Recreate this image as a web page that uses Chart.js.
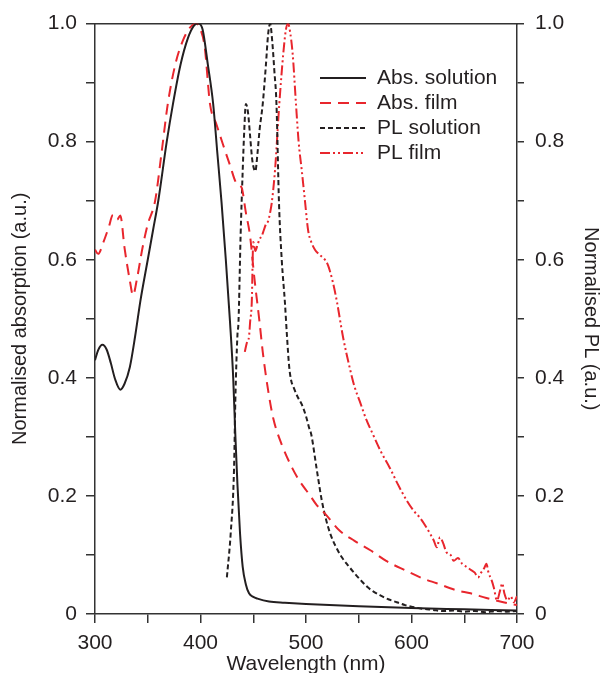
<!DOCTYPE html>
<html lang="en">
<head>
<meta charset="utf-8">
<title>Normalised absorption and PL</title>
<script src="https://cdn.jsdelivr.net/npm/chart.js@4.4.1/dist/chart.umd.min.js"></script>
<style>
  html, body { margin: 0; padding: 0; background: #fff; }
  #wrap { width: 602px; height: 673px; overflow: hidden; }
</style>
</head>
<body>
<div id="wrap"><canvas id="graph" width="602" height="677"></canvas></div>
<script>
// series: wavelength (nm) and normalised value
var absSolWl = [300,303,307,311,315,319,324,328,333,338,343,350,355,360,368,374,381,388,394,398,402,407,412,416,420,424,428,431,433,435,437.5,440,443,446,450,454,465,480,500,550,600,650,700];
var absSolVal = [0.43,0.447,0.456,0.448,0.425,0.398,0.38,0.39,0.418,0.47,0.53,0.6,0.65,0.70,0.80,0.865,0.93,0.975,0.997,1.0,0.99,0.93,0.864,0.78,0.696,0.6,0.494,0.4,0.304,0.22,0.136,0.08,0.05,0.035,0.029,0.026,0.021,0.019,0.017,0.013,0.01,0.008,0.006];

var absFilmWl = [300,303,308,313,317,321,324,328,333,336,340,345,350,357,363,369,376,383,390,396,400,404,409,415,421,428,434,439,443,447,451,456,459,464,469,477,487,494,503,510,518,532,546,561,576,594,611,624,643,656,671,687,700];
var absFilmVal = [0.617,0.61,0.63,0.655,0.676,0.668,0.675,0.62,0.565,0.54,0.57,0.62,0.66,0.70,0.78,0.864,0.93,0.97,0.993,1.0,0.99,0.96,0.864,0.83,0.797,0.76,0.73,0.722,0.68,0.64,0.57,0.494,0.444,0.38,0.331,0.287,0.247,0.225,0.203,0.185,0.17,0.141,0.124,0.108,0.09,0.074,0.06,0.052,0.04,0.035,0.027,0.02,0.015];

var plSolWl = [425,428.6,431.8,433,435,436,438,440,441.5,443,445,447,449,451,452,454,456,459,462,464,466,468,470,472,474.4,477,480,482,484,486,488,492,496,500,503,505,510,515,519,523,528,534,540,546,552,558,564,570,578,586,594,601,610,620,630,640,650,660,670,680,690,700];
var plSolVal = [0.062,0.136,0.247,0.36,0.472,0.494,0.64,0.751,0.82,0.864,0.85,0.81,0.77,0.752,0.75,0.78,0.82,0.864,0.93,0.98,1.0,0.97,0.92,0.864,0.696,0.6,0.528,0.47,0.42,0.395,0.385,0.368,0.355,0.335,0.315,0.304,0.247,0.192,0.16,0.136,0.115,0.096,0.082,0.069,0.057,0.046,0.038,0.032,0.025,0.02,0.015,0.012,0.009,0.007,0.005,0.006,0.004,0.005,0.003,0.005,0.004,0.005];

var plFilmWl = [442,444,446,447,448.6,450,452,454,456,458,460,462,464,466,467.5,470.6,474.7,478.5,481,483,485,487.4,490.5,493,496,499,502,505,508.5,512,515,518,521,525.6,529.4,535,541.7,546,551,557,563.5,571,579.6,587,595.5,602,608,613,617.6,621,624,627,630,633,637,640,644,648,652,656,660,663,666,669,671,673,676,678,681,684,686,688,691,694,697,700];
var plFilmVal = [0.444,0.46,0.47,0.494,0.528,0.63,0.615,0.625,0.635,0.64,0.65,0.66,0.665,0.68,0.696,0.751,0.864,0.95,0.99,1.0,0.985,0.948,0.864,0.8,0.751,0.7,0.65,0.63,0.617,0.61,0.605,0.6,0.59,0.561,0.528,0.47,0.415,0.385,0.36,0.33,0.304,0.275,0.247,0.22,0.192,0.175,0.163,0.15,0.136,0.125,0.113,0.13,0.12,0.105,0.1,0.09,0.095,0.085,0.08,0.075,0.07,0.062,0.07,0.078,0.085,0.07,0.057,0.045,0.023,0.04,0.052,0.035,0.023,0.03,0.02,0.03];

var seriesNames = ["Abs. solution", "Abs. film", "PL solution", "PL film"];
var xTicks = [300, 400, 500, 600, 700];

var RED = "#e8262d";
var INK = "#231f20";
var FONT = "'Liberation Sans', Arial, Helvetica, sans-serif";

function pairs(xs, ys) {
  return xs.map(function (x, i) { return { x: x, y: ys[i] }; });
}

function yLabel(v) {
  var k = Math.round(v * 10);
  if (k % 2) return "";
  return k === 0 ? "0" : (k / 10).toFixed(1);
}

// legend drawn inside the plot, upper right
var insideLegend = {
  id: "insideLegend",
  afterDraw: function (chart) {
    var ctx = chart.ctx;
    ctx.save();
    ctx.font = "21px " + FONT;
    ctx.textBaseline = "middle";
    chart.data.datasets.forEach(function (ds, i) {
      var y = 78 + i * 25;
      ctx.beginPath();
      ctx.strokeStyle = ds.borderColor;
      ctx.lineWidth = ds.borderWidth;
      ctx.setLineDash(ds.borderDash || []);
      ctx.moveTo(320, y);
      ctx.lineTo(366, y);
      ctx.stroke();
      ctx.setLineDash([]);
      ctx.fillStyle = INK;
      ctx.fillText(ds.label, 377, y);
    });
    ctx.restore();
  }
};

var tickFont = { family: FONT, size: 21 };
var titleFont = { family: FONT, size: 20 };

new Chart(document.getElementById("graph"), {
  type: "line",
  data: {
    datasets: [
      { label: seriesNames[0], data: pairs(absSolWl, absSolVal), borderColor: INK, borderWidth: 2, yAxisID: "y" },
      { label: seriesNames[1], data: pairs(absFilmWl, absFilmVal), borderColor: RED, borderWidth: 2, borderDash: [11, 7], yAxisID: "y" },
      { label: seriesNames[2], data: pairs(plSolWl, plSolVal), borderColor: INK, borderWidth: 2, borderDash: [5, 3], yAxisID: "y2" },
      { label: seriesNames[3], data: pairs(plFilmWl, plFilmVal), borderColor: RED, borderWidth: 2, borderDash: [10, 3, 2, 3, 2, 3], yAxisID: "y2" }
    ]
  },
  options: {
    responsive: false,
    animation: false,
    devicePixelRatio: 1,
    layout: { padding: { top: 15, left: 0, right: 0, bottom: 0 } },
    elements: {
      point: { radius: 0 },
      line: { cubicInterpolationMode: "monotone", fill: false }
    },
    plugins: { legend: { display: false }, tooltip: { enabled: false } },
    scales: {
      x: {
        type: "linear",
        position: "bottom",
        min: 300,
        max: 700,
        afterFit: function (s) { s.height = 63; },
        ticks: {
          stepSize: 50,
          autoSkip: false,
          maxRotation: 0,
          padding: 8,
          color: INK,
          font: tickFont,
          callback: function (v) { return xTicks.indexOf(v) >= 0 ? String(v) : ""; }
        },
        grid: { drawOnChartArea: false, tickLength: 9, color: "#333", lineWidth: 1.5 },
        border: { color: "#333", width: 1.5 },
        title: { display: true, text: "Wavelength (nm)", color: INK, font: { family: FONT, size: 21 }, padding: { top: 0, bottom: 0 } }
      },
      xTop: {
        type: "linear",
        position: "top",
        min: 300,
        max: 700,
        afterFit: function (s) { s.height = 0; },
        ticks: { display: false },
        grid: { drawOnChartArea: false, drawTicks: false },
        border: { color: "#333", width: 1.5 }
      },
      y: {
        position: "left",
        min: 0,
        max: 1,
        afterFit: function (s) { s.width = 95; },
        ticks: { stepSize: 0.1, autoSkip: false, padding: 9, color: INK, font: tickFont, callback: yLabel },
        grid: { drawOnChartArea: false, tickLength: 9, color: "#333", lineWidth: 1.5 },
        border: { color: "#333", width: 1.5 },
        title: { display: true, text: "Normalised absorption (a.u.)", color: INK, font: titleFont, padding: { top: 8, bottom: 0 } }
      },
      y2: {
        position: "right",
        min: 0,
        max: 1,
        afterFit: function (s) { s.width = 85; },
        ticks: { stepSize: 0.1, autoSkip: false, padding: 11, color: INK, font: tickFont, callback: yLabel },
        grid: { drawOnChartArea: false, tickLength: 7, color: "#333", lineWidth: 1.5 },
        border: { color: "#333", width: 1.5 },
        title: { display: true, text: "Normalised PL (a.u.)", color: INK, font: { family: FONT, size: 20, lineHeight: 1 }, padding: { top: 1, bottom: 0 } }
      }
    }
  },
  plugins: [insideLegend]
});
</script>
</body>
</html>
